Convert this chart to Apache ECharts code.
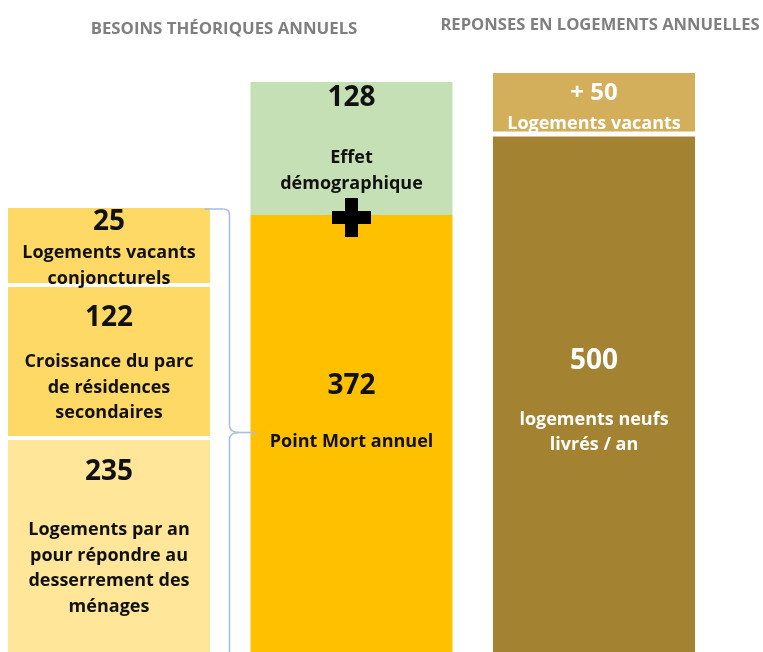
<!DOCTYPE html>
<html>
<head>
<meta charset="utf-8">
<script src="https://cdn.jsdelivr.net/npm/echarts@6/dist/echarts.min.js"></script>
<style>
  html, body { margin: 0; padding: 0; background: #fff; }
  #chart { width: 763px; height: 652px; }
</style>
</head>
<body>
<div id="chart"></div>
<script>
// colonnes du schéma
const colonnes = ['Besoins théoriques', 'Point mort', 'Réponses'];
const titres = ['BESOINS THÉORIQUES ANNUELS', 'REPONSES EN LOGEMENTS ANNUELLES'];

// segments empilés, du bas vers le haut de chaque colonne
const segColonne = [0, 0, 0, 1, 1, 2, 2];
// hauteurs telles que dessinées (le schéma n'est pas à l'échelle des chiffres)
const segHauteur = [214, 153, 77, 437, 133, 518, 61];
const segNombre = ['235', '122', '25', '372', '128', '500', '+ 50'];
const segTexte = [
  ['Logements par an', 'pour répondre au', 'desserrement des', 'ménages'],
  ['Croissance du parc', 'de résidences', 'secondaires'],
  ['Logements vacants', 'conjoncturels'],
  ['Point Mort annuel'],
  ['Effet', 'démographique'],
  ['logements neufs', 'livrés / an'],
  ['Logements vacants'],
];

// styles
const couleurs = ['#FFE699', '#FFD966', '#FFD966', '#FFC000', '#C5E0B4', '#A38232', '#D4AF5B'];
const couleurTexte = ['#111', '#111', '#111', '#111', '#111', '#fff', '#fff'];
// [centre du nombre, centre de la 1re ligne] mesurés depuis le haut visible du segment
const placeTexte = [[32, 90], [31, 75], [14, 45], [171, 227], [16, 76], [225, 283], [20, 51]];
const tailleNombre = [28, 28, 28, 28, 28, 28, 24];
const ecartColonne = [4, 0, 5];
const largeur = 202;
const police = 'Open Sans';

// début / fin de chaque segment dans sa colonne
const cumul = [0, 0, 0];
const donnees = segHauteur.map(function (h, i) {
  const c = segColonne[i];
  const debut = cumul[c];
  cumul[c] += h;
  return [c, debut, cumul[c], i];
});
const sommets = donnees.map(function (d, i) {
  return !segColonne.some(function (c, j) { return j > i && c === d[0]; });
});

function renderItem(params, api) {
  const i = api.value(3);
  const col = api.value(0);
  const p0 = api.coord([col, api.value(1)]);
  const p1 = api.coord([col, api.value(2)]);
  const demi = ecartColonne[col] / 2;
  const haut = p1[1] + (sommets[i] ? 0 : demi);
  const bas = p0[1] - (api.value(1) > 0 ? demi : 0);
  const cx = p0[0];
  const enfants = [{
    type: 'rect',
    shape: { x: cx - largeur / 2, y: haut, width: largeur, height: bas - haut },
    style: { fill: couleurs[i] },
  }, {
    type: 'text',
    x: cx,
    y: haut + placeTexte[i][0],
    style: {
      text: segNombre[i],
      fill: couleurTexte[i],
      fontFamily: police,
      fontWeight: 'bold',
      fontSize: tailleNombre[i],
      align: 'center',
      verticalAlign: 'middle',
    },
  }];
  segTexte[i].forEach(function (ligne, k) {
    enfants.push({
      type: 'text',
      x: cx,
      y: haut + placeTexte[i][1] + k * 25.5,
      style: {
        text: ligne,
        fill: couleurTexte[i],
        fontFamily: police,
        fontWeight: 'bold',
        fontSize: 18,
        align: 'center',
        verticalAlign: 'middle',
      },
    });
  });
  return { type: 'group', children: enfants };
}

const chart = echarts.init(document.getElementById('chart'));
chart.setOption({
  animation: false,
  title: [
    {
      text: titres[0],
      left: 219,
      top: 16,
      textAlign: 'center',
      textStyle: { color: '#7f7f7f', fontFamily: police, fontWeight: 'bold', fontSize: 16.8 },
    },
    {
      text: titres[1],
      left: 595,
      top: 12,
      textAlign: 'center',
      textStyle: { color: '#7f7f7f', fontFamily: police, fontWeight: 'bold', fontSize: 16.6 },
    },
  ],
  grid: { left: 109, right: 169, top: 0, bottom: 0 },
  xAxis: { type: 'category', data: colonnes, boundaryGap: false, show: false },
  yAxis: { type: 'value', min: 0, max: 652, show: false },
  series: [{
    type: 'custom',
    renderItem: renderItem,
    data: donnees,
    silent: true,
  }],
});

// accolade et signe plus, placés d'après les colonnes
const cGauche = chart.convertToPixel({ gridIndex: 0 }, [0, cumul[0]]);
const cMilieu = chart.convertToPixel({ gridIndex: 0 }, [1, segHauteur[3]]);
const yBas = chart.convertToPixel({ gridIndex: 0 }, [0, 0])[1];
const xL = cGauche[0] + largeur / 2 + 19.5;
const yH = cGauche[1] + 1;
const yP = (yH + yBas) / 2 + 2;
const xPointe = cMilieu[0] - largeur / 2 + 6;
const trait = { stroke: '#A9BEE3', lineWidth: 1.6, fill: null };

function ligne(x1, y1, x2, y2) {
  return { type: 'line', z: 10, silent: true, shape: { x1: x1, y1: y1, x2: x2, y2: y2 }, style: trait };
}
function courbe(x1, y1, cx, cy, x2, y2) {
  return {
    type: 'bezierCurve', z: 10, silent: true,
    shape: { x1: x1, y1: y1, cpx1: cx, cpy1: cy, x2: x2, y2: y2 },
    style: trait,
  };
}

chart.setOption({
  graphic: [
    ligne(xL - 25, yH, xL - 6, yH),
    courbe(xL - 6, yH, xL, yH, xL, yH + 6),
    ligne(xL, yH + 6, xL, yP - 7),
    courbe(xL, yP - 7, xL, yP, xL + 10, yP),
    ligne(xL + 10, yP, xPointe, yP),
    courbe(xL + 10, yP, xL, yP, xL, yP + 7),
    ligne(xL, yP + 7, xL, yBas + 10),
    {
      type: 'rect', z: 10,
      shape: { x: cMilieu[0] - 19.5, y: cMilieu[1] + 2.5 - 6.5, width: 39, height: 13 },
      style: { fill: '#000' },
    },
    {
      type: 'rect', z: 10,
      shape: { x: cMilieu[0] - 6.5, y: cMilieu[1] + 2.5 - 19.5, width: 13, height: 39 },
      style: { fill: '#000' },
    },
  ],
});
</script>
</body>
</html>
